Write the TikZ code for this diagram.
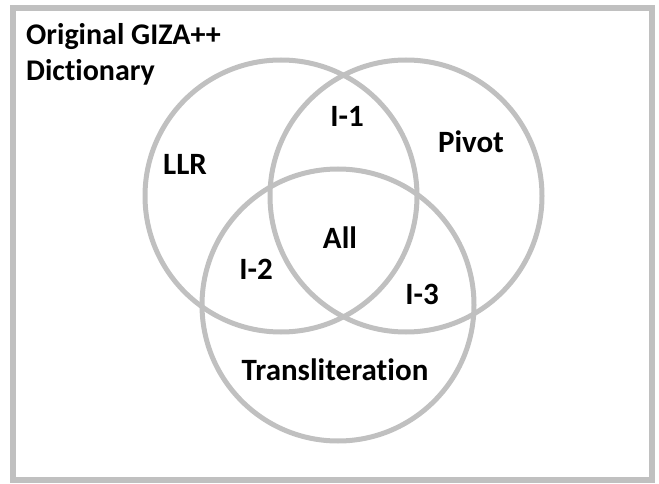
\documentclass[tikz,border=0pt]{standalone}
\usepackage{fontspec}
\setmainfont[Ligatures=NoCommon]{Carlito}
\definecolor{vgray}{RGB}{192,192,192}
\tikzset{
  vcircle/.style={draw=vgray, line width=5pt},
  frame/.style={draw=vgray, line width=6pt},
  lbl/.style={font=\fontsize{31}{34}\selectfont\bfseries, inner sep=0pt, anchor=base, text=black},
  ttl/.style={font=\fontsize{30}{34}\selectfont\bfseries, inner sep=0pt, anchor=base west, text=black},
}
\begin{document}
\begin{tikzpicture}[x=1pt,y=-1pt]
\useasboundingbox (0,0) rectangle (659,484);
\draw[frame] (13,8) rectangle (652,480);
\draw[vcircle] (281,196) circle (136);
\draw[vcircle] (406,196) circle (136);
\draw[vcircle] (338,305) circle (136);
\node[ttl] (title) at (26,45) {Original GIZA++};
\node[ttl] (title2) at (26,81) {Dictionary};
\node[lbl] (llr) at (185,175) {LLR};
\node[lbl] (i1) at (347,127) {I-1};
\node[lbl] (pivot) at (471,153) {Pivot};
\node[lbl] (all) at (340,248) {All};
\node[lbl] (i2) at (256,279) {I-2};
\node[lbl] (i3) at (422,304) {I-3};
\node[lbl] (trans) at (335,380) {Transliteration};
\end{tikzpicture}
\end{document}
